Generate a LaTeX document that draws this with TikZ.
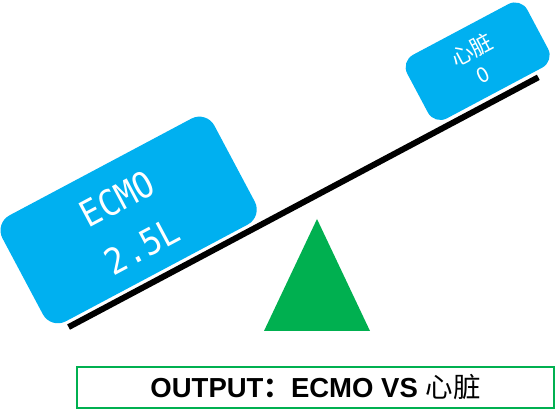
\documentclass[tikz,border=0pt]{standalone}
\usepackage{fontspec}
\setmainfont{Liberation Sans}
\newfontfamily\cjk{Noto Sans CJK SC}
\newfontfamily\monofont{DejaVu Sans Mono}
\definecolor{boxblue}{HTML}{00B0F0}
\definecolor{okgreen}{HTML}{00B050}
\begin{document}
\begin{tikzpicture}[x=1pt,y=1pt,
  panel/.style={fill=boxblue, draw=none, rounded corners=#1, transform shape, inner sep=0pt},
  bigtxt/.style={text=white, transform shape, inner sep=0pt, xscale=0.9, font=\monofont\fontsize{36}{42}\selectfont},
  smalltxt/.style={text=white, transform shape, inner sep=0pt, font=\cjk\fontsize{22}{26}\selectfont},
  lever/.style={line width=6pt, black}]
\useasboundingbox (0,0) rectangle (555,409);
\begin{scope}[shift={(0,409)}, rotate=28]
  \coordinate (leverL) at (-93,-321);
  \coordinate (leverR) at (439,-321);
  \draw[lever] (leverL) -- (leverR);
  \node[panel=17pt, minimum width=240pt, minimum height=120pt] (ecmo) at (10.3,-254.6) {};
  \node[bigtxt] (ecmoA) at (10,-230.6) {ECMO};
  \node[bigtxt] (ecmoB) at (10,-284.2) {2.5L};
  \node[panel=14pt, minimum width=136pt, minimum height=72pt] (heart) at (393,-278.3) {};
  \node[smalltxt] (heartA) at (393.3,-265.6) {心脏};
  \node[smalltxt, font=\cjk\fontsize{21}{25}\selectfont] (heartB) at (391.3,-292.7) {0};
\end{scope}
\coordinate (apex) at (317,190);
\coordinate (baseL) at (264,78);
\coordinate (baseR) at (370,78);
\fill[okgreen] (apex) -- (baseL) -- (baseR) -- cycle;
\node[draw=okgreen, line width=1.5pt, minimum width=477pt, minimum height=41pt, inner sep=0pt,
  font=\fontsize{27.5}{30}\selectfont\bfseries] (output) at (315.5,21.5)
  {OUTPUT{\cjk ：}ECMO VS {\cjk\mdseries 心脏}};
\end{tikzpicture}
\end{document}
